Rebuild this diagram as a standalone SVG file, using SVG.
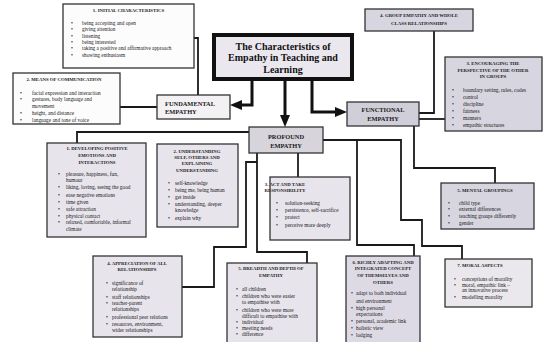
<svg xmlns="http://www.w3.org/2000/svg" width="544" height="342" viewBox="0 0 544 342">
<style>
.bx{stroke:#333;stroke-width:1.3}
.w{fill:#fcfcfc}
.l{fill:#e7e4ec}
.m{fill:#d7d5df}
text{font-family:"Liberation Serif","Times New Roman",serif;fill:#1a1a1a}
.t{font-size:5.3px}
.h{font-size:4.8px;font-weight:bold;text-anchor:middle}
.b{font-size:5.3px}
.big{font-size:10px;font-weight:bold;text-anchor:middle;fill:#111}
.mid{font-size:6.4px;font-weight:bold;fill:#1a1a1a}
.c{fill:none;stroke:#1a1a1a;stroke-width:1.8}
.a{fill:none;stroke:#111;stroke-width:3}
</style>
<defs>
<marker id="ah" markerWidth="12" markerHeight="10" refX="4" refY="5" orient="auto" markerUnits="userSpaceOnUse"><path d="M0,0 L12,5 L0,10 z" fill="#111"/></marker>
</defs>

<g id="connectors">
<path class="c" d="M194,38 H198 V95"/>
<path class="c" d="M120,107 H157"/>
<path class="a" d="M252,80 V105 H238" marker-end="url(#ah)"/>
<path class="a" d="M285,80 V119" marker-end="url(#ah)"/>
<path class="a" d="M312,80 V112 H339" marker-end="url(#ah)"/>
<path class="c" d="M434,31 V113 H419"/>
<path class="c" d="M419,119 H445"/>
<path class="c" d="M414,126 V168 H495 V183"/>
<path class="c" d="M249,132 H77 V143"/>
<path class="c" d="M298,153 V177"/>
<path class="c" d="M257,153 V252 H307 V263"/>
<path class="c" d="M257,162 H246 V247 H214 V287 H182"/>
<path class="c" d="M323,140 H401 V220 H422 V246 H462 V259"/>
<path class="c" d="M357,140 V245 H414 V256"/>
</g>

<g id="title">
<rect x="214" y="35" width="138" height="44" fill="#ebe7ee" stroke="#111" stroke-width="4"/>
<text class="big" x="283" y="49.5">The Characteristics of</text>
<text class="big" x="283" y="61">Empathy in Teaching and</text>
<text class="big" x="283" y="72.7">Learning</text>
</g>

<g id="fundamental">
<rect class="bx" x="157" y="95" width="73" height="24" fill="#f3f1f4" stroke-width="1.8"/>
<text class="mid" x="165" y="105.5">FUNDAMENTAL</text>
<text class="mid" x="165" y="113.5">EMPATHY</text>
</g>

<g id="functional">
<rect class="bx" x="347" y="102" width="72" height="24" fill="#d0ced8" stroke-width="1.8"/>
<text class="mid" x="383" y="112" text-anchor="middle">FUNCTIONAL</text>
<text class="mid" x="383" y="120.5" text-anchor="middle">EMPATHY</text>
</g>

<g id="profound">
<rect class="bx" x="249" y="127" width="74" height="26" fill="#d8d4dc" stroke-width="1.8"/>
<text class="mid" x="286" y="139" text-anchor="middle">PROFOUND</text>
<text class="mid" x="286" y="147.5" text-anchor="middle">EMPATHY</text>
</g>

<g id="initial">
<rect class="bx w" x="63" y="4" width="131" height="64"/>
<text class="h" x="128.5" y="11.5">1. INITIAL CHARACTERISTICS</text>
<text class="b" x="71" y="25">•</text><text class="t" x="82" y="25">being accepting and open</text>
<text class="b" x="71" y="31.3">•</text><text class="t" x="82" y="31.3">giving attention</text>
<text class="b" x="71" y="37.6">•</text><text class="t" x="82" y="37.6">listening</text>
<text class="b" x="71" y="43.9">•</text><text class="t" x="82" y="43.9">being interested</text>
<text class="b" x="71" y="50.2">•</text><text class="t" x="82" y="50.2">taking a positive and affirmative approach</text>
<text class="b" x="71" y="56.5">•</text><text class="t" x="82" y="56.5">showing enthusiasm</text>
</g>

<g id="means">
<rect class="bx w" x="13" y="73" width="107" height="51"/>
<text class="h" x="64" y="80.7">2. MEANS OF COMMUNICATION</text>
<text class="b" x="20" y="95">•</text><text class="t" x="32" y="95">facial expression and interaction</text>
<text class="b" x="20" y="101.3">•</text><text class="t" x="32" y="101.3">gestures, body language and</text>
<text class="t" x="32" y="107.8">movement</text>
<text class="b" x="20" y="114.8">•</text><text class="t" x="32" y="114.8">height, and distance</text>
<text class="b" x="20" y="121.5">•</text><text class="t" x="32" y="121.5">language and tone of voice</text>
</g>

<g id="group">
<rect class="bx m" x="365" y="9" width="108" height="22"/>
<text class="h" x="419" y="17">4. GROUP EMPATHY AND WHOLE</text>
<text class="h" x="419" y="24.5">CLASS RELATIONSHIPS</text>
</g>

<g id="encouraging">
<rect class="bx m" x="445" y="57" width="97" height="74"/>
<text class="h" x="493" y="64.8">3. ENCOURAGING THE</text>
<text class="h" x="493" y="71.5">PERSPECTIVE OF THE OTHER</text>
<text class="h" x="493" y="78">IN GROUPS</text>
<text class="b" x="452" y="91.5">•</text><text class="t" x="463" y="91.5">boundary setting, rules, codes</text>
<text class="b" x="452" y="98.5">•</text><text class="t" x="463" y="98.5">control</text>
<text class="b" x="452" y="105.5">•</text><text class="t" x="463" y="105.5">discipline</text>
<text class="b" x="452" y="112.5">•</text><text class="t" x="463" y="112.5">fairness</text>
<text class="b" x="452" y="119.5">•</text><text class="t" x="463" y="119.5">manners</text>
<text class="b" x="452" y="126.5">•</text><text class="t" x="463" y="126.5">empathic structures</text>
</g>

<g id="mental">
<rect class="bx m" x="441" y="183" width="93" height="46"/>
<text class="h" x="485" y="191.8">5. MENTAL GROUPINGS</text>
<text class="b" x="448" y="204.8">•</text><text class="t" x="459" y="204.8">child type</text>
<text class="b" x="448" y="211.3">•</text><text class="t" x="459" y="211.3">external differences</text>
<text class="b" x="448" y="218.3">•</text><text class="t" x="459" y="218.3">teaching groups differently</text>
<text class="b" x="448" y="225">•</text><text class="t" x="459" y="225">gender</text>
</g>

<g id="developing">
<rect class="bx l" x="47" y="143" width="99" height="94"/>
<text class="h" x="97" y="150">1. DEVELOPING POSITIVE</text>
<text class="h" x="97" y="157">EMOTIONS AND</text>
<text class="h" x="97" y="164">INTERACTIONS</text>
<text class="b" x="58" y="176">•</text><text class="t" x="66" y="176">pleasure, happiness, fun,</text>
<text class="t" x="66" y="182">humour</text>
<text class="b" x="58" y="189">•</text><text class="t" x="66" y="189">liking, loving, seeing the good</text>
<text class="b" x="58" y="197">•</text><text class="t" x="66" y="197">ease negative emotions</text>
<text class="b" x="58" y="204">•</text><text class="t" x="66" y="204">time given</text>
<text class="b" x="58" y="211">•</text><text class="t" x="66" y="211">safe attraction</text>
<text class="b" x="58" y="218">•</text><text class="t" x="66" y="218">physical contact</text>
<text class="b" x="58" y="224">•</text><text class="t" x="66" y="224">relaxed, comfortable, informal</text>
<text class="t" x="66" y="231">climate</text>
</g>

<g id="understanding">
<rect class="bx l" x="157" y="144" width="81" height="83"/>
<text class="h" x="197" y="152.7">2. UNDERSTANDING</text>
<text class="h" x="197" y="159">SELF, OTHERS AND</text>
<text class="h" x="197" y="165.3">EXPLAINING</text>
<text class="h" x="197" y="171.6">UNDERSTANDING</text>
<text class="b" x="168" y="185">•</text><text class="t" x="175" y="185">self-knowledge</text>
<text class="b" x="168" y="192">•</text><text class="t" x="175" y="192">being me, being human</text>
<text class="b" x="168" y="198.5">•</text><text class="t" x="175" y="198.5">get inside</text>
<text class="b" x="168" y="205.5">•</text><text class="t" x="175" y="205.5">understanding, deeper</text>
<text class="t" x="175" y="211.8">knowledge</text>
<text class="b" x="168" y="219.5">•</text><text class="t" x="175" y="219.5">explain why</text>
</g>

<g id="act">
<rect class="bx l" x="270" y="177" width="80" height="63"/>
<text class="h" x="285" y="185.5" text-anchor="start">3. ACT AND TAKE</text>
<text class="h" x="285" y="191.8" text-anchor="start">RESPONSIBILITY</text>
<text class="b" x="276" y="204.8">•</text><text class="t" x="285" y="204.8">solution-seeking</text>
<text class="b" x="276" y="212">•</text><text class="t" x="285" y="212">persistence, self-sacrifice</text>
<text class="b" x="276" y="218.8">•</text><text class="t" x="285" y="218.8">protect</text>
<text class="b" x="276" y="226.5">•</text><text class="t" x="285" y="226.5">perceive more deeply</text>
</g>

<g id="appreciation">
<rect class="bx l" x="93" y="256" width="89" height="81"/>
<text class="h" x="137" y="264.5">4. APPRECIATION OF ALL</text>
<text class="h" x="137" y="271">RELATIONSHIPS</text>
<text class="b" x="106" y="285">•</text><text class="t" x="112" y="285">significance of</text>
<text class="t" x="112" y="290.5">relationship</text>
<text class="b" x="106" y="299">•</text><text class="t" x="112" y="299">staff relationships</text>
<text class="b" x="106" y="305">•</text><text class="t" x="112" y="305">teacher-parent</text>
<text class="t" x="112" y="310.5">relationships</text>
<text class="b" x="106" y="319">•</text><text class="t" x="112" y="319">professional peer relations</text>
<text class="b" x="106" y="325.5">•</text><text class="t" x="112" y="325.5">resources, environment,</text>
<text class="t" x="112" y="331.8">wider relationships</text>
</g>

<g id="breadth">
<rect class="bx l" x="227" y="263" width="90" height="84"/>
<text class="h" x="271" y="270">5. BREADTH AND DEPTH OF</text>
<text class="h" x="271" y="276.5">EMPATHY</text>
<text class="b" x="236" y="291">•</text><text class="t" x="242" y="291">all children</text>
<text class="b" x="236" y="297.5">•</text><text class="t" x="242" y="297.5">children who were easier</text>
<text class="t" x="242" y="303.5">to empathise with</text>
<text class="b" x="236" y="311.5">•</text><text class="t" x="242" y="311.5">children who were more</text>
<text class="t" x="242" y="317.5">difficult to empathise with</text>
<text class="b" x="236" y="323.5">•</text><text class="t" x="242" y="323.5">individual</text>
<text class="b" x="236" y="329.5">•</text><text class="t" x="242" y="329.5">meeting needs</text>
<text class="b" x="236" y="336">•</text><text class="t" x="242" y="336">difference</text>
</g>

<g id="richly">
<rect class="bx" x="346" y="256" width="74" height="91" fill="#dedae5"/>
<text class="h" x="383" y="263.8">6. RICHLY ADAPTING AND</text>
<text class="h" x="383" y="270">INTEGRATED CONCEPT</text>
<text class="h" x="383" y="276.8">OF THEMSELVES AND</text>
<text class="h" x="383" y="283.5">OTHERS</text>
<text class="b" x="351" y="295">•</text><text class="t" x="356" y="295">adapt to both individual</text>
<text class="t" x="356" y="302.5">and environment</text>
<text class="b" x="351" y="309.5">•</text><text class="t" x="356" y="309.5">high personal</text>
<text class="t" x="356" y="316">expectations</text>
<text class="b" x="351" y="322.8">•</text><text class="t" x="356" y="322.8">personal, academic link</text>
<text class="b" x="351" y="329.8">•</text><text class="t" x="356" y="329.8">holistic view</text>
<text class="b" x="351" y="336.8">•</text><text class="t" x="356" y="336.8">lodging</text>
</g>

<g id="moral">
<rect class="bx" x="445" y="259" width="87" height="48" fill="#eae8ec"/>
<text class="h" x="480" y="266.8">7. MORAL ASPECTS</text>
<text class="b" x="454" y="280.8">•</text><text class="t" x="462" y="280.8">conceptions of morality</text>
<text class="b" x="454" y="286.5">•</text><text class="t" x="462" y="286.5">moral, empathic link –</text>
<text class="t" x="462" y="292">an innovative process</text>
<text class="b" x="454" y="299">•</text><text class="t" x="462" y="299">modelling morality</text>
</g>
</svg>
